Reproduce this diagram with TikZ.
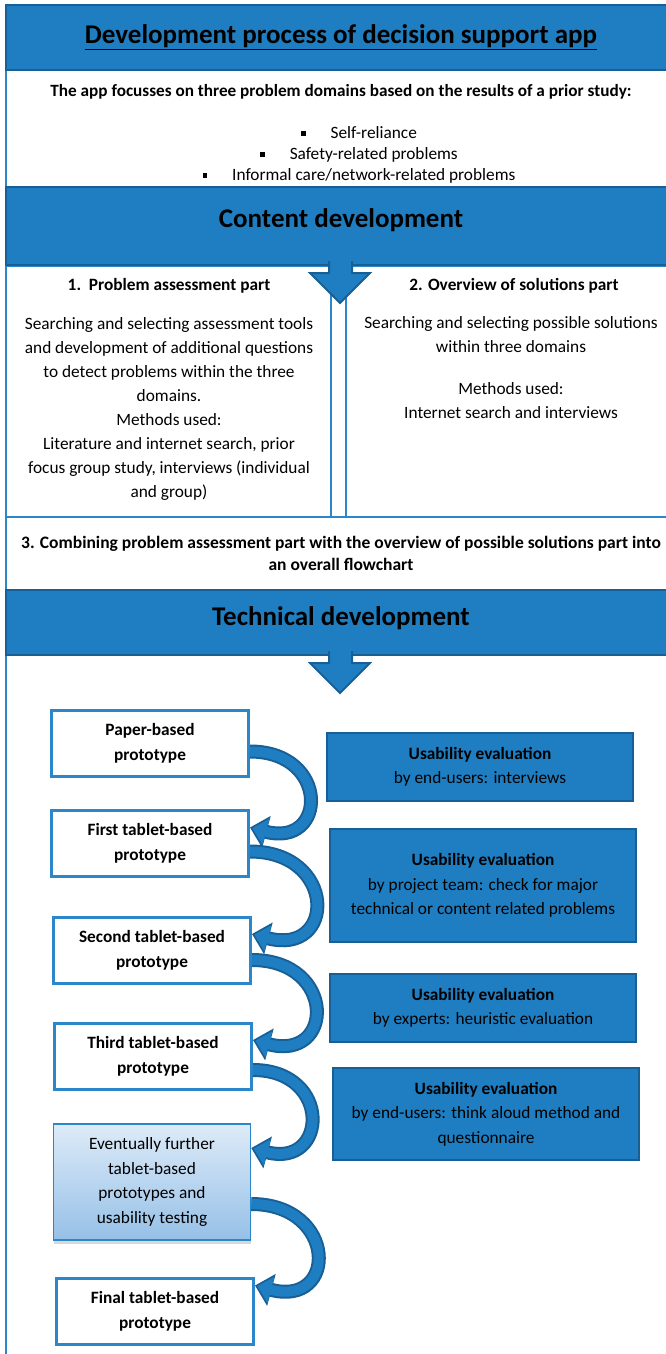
\documentclass[tikz,border=0pt]{standalone}
\usepackage{fontspec}
\setmainfont{Carlito}
\usepackage{xcolor}
\usepackage{tikz}
\usetikzlibrary{shapes, arrows.meta, positioning, shadows}

\definecolor{mainblue}{RGB}{31,126,193}
\definecolor{edgeblue}{RGB}{24,95,150}
\definecolor{lineblue}{RGB}{44,134,202}
\definecolor{paleblue}{RGB}{221,235,248}
\definecolor{skyblue}{RGB}{150,192,231}

\newcommand{\bulletsq}{\rule[3pt]{4.5pt}{4.5pt}\hspace{25pt}}

\begin{document}
\begin{tikzpicture}
  [
    x=1pt, y=-1pt,
    Banner/.style={rectangle, draw=edgeblue, fill=mainblue, line width=2.5pt, inner sep=0pt, minimum width=670},
    Heading/.style={font=\fontsize{27}{31}\selectfont\bfseries},
    Plain/.style={rectangle, draw=lineblue, fill=white, line width=2.5pt, inner sep=0pt},
    Body/.style={align=center, font=\fontsize{17.3}{24}\selectfont},
    Proto/.style={rectangle, draw=lineblue, fill=white, line width=3pt, minimum width=197, minimum height=66, align=center, font=\fontsize{17.3}{25}\selectfont\bfseries},
    Further/.style={Proto, top color=paleblue, bottom color=skyblue, line width=1.5pt, minimum height=116, font=\fontsize{17.3}{24.5}\selectfont, drop shadow={shadow xshift=0pt, shadow yshift=-4pt, opacity=0.3}},
    Eval/.style={rectangle, draw=edgeblue, fill=mainblue, line width=2.5pt, minimum width=306, align=center, font=\fontsize{17.3}{24.5}\selectfont},
    Bend/.style={line width=10pt, draw=mainblue, shorten >=2.5pt, -{Triangle[width=26pt, length=14pt]},
      preaction={draw=edgeblue, line width=14pt, shorten >=0pt, -{Triangle[width=32pt, length=17pt]}}}
  ]
  % Page and frame
  \fill[white] (0,0) rectangle (666,1354);
  \useasboundingbox (0,0) rectangle (666,1354);
  \draw[lineblue, line width=2.5pt] (6,5) -- (6,1370);

  % White sections
  \node[Plain, minimum width=670, minimum height=117] (intro) at (341,128.5) {};
  \node[Plain, minimum width=325, minimum height=251] (partA) at (168.5,391.5) {};
  \node[Plain, minimum width=330, minimum height=251] (partB) at (511,391.5) {};
  \node[Plain, minimum width=670, minimum height=73] (combine) at (341,553.5) {};

  % Banners
  \node[Banner, minimum height=65, font=\fontsize{27}{31}\selectfont\bfseries] (title) at (341,37.5) {\underline{Development process of decision support app}};
  \node[Banner, minimum height=78] (content) at (341,226) {};
  \node[Banner, minimum height=65] (technical) at (341,622.5) {};
  \node[Heading] (contentText) at (341,220) {Content development};
  \node[Heading] (technicalText) at (341,618) {Technical development};

  % Block arrows below the banners
  \foreach \y in {265,655}
    \filldraw[fill=mainblue, draw=edgeblue, line width=2pt, line join=miter] (329,\y-4) -- (329,\y+8) -- (310,\y+8) -- (340,\y+38) -- (370,\y+8) -- (352,\y+8) -- (352,\y-4);

  % Texts of the content part
  \node[Body, font=\fontsize{17.2}{20}\selectfont\bfseries] (aim) at (341,92) {The app focusses on three problem domains based on the results of a prior study:};
  \node[Body, font=\fontsize{17.3}{21}\selectfont] (domains) at (359,155) {\bulletsq Self-reliance\\ \bulletsq Safety-related problems\\ \bulletsq Informal care/network-related problems};
  \node[Body, font=\fontsize{17.3}{24}\selectfont\bfseries] (assessHead) at (169,286) {1.\ \ Problem assessment part};
  \node[Body] (assessBody) at (169,408.5) {Searching and selecting assessment tools\\ and development of additional questions\\ to detect problems within the three\\ domains.\\ Methods used:\\ Literature and internet search, prior\\ focus group study, interviews (individual\\ and group)};
  \node[Body, font=\fontsize{17.3}{24}\selectfont\bfseries] (overviewHead) at (514,286) {2. Overview of solutions part};
  \node[Body] (overviewBody) at (511,368) {Searching and selecting possible solutions\\ within three domains\\[18pt] Methods used:\\ Internet search and interviews};
  \node[Body, font=\fontsize{17.5}{22}\selectfont\bfseries] (combineText) at (341,553) {3. Combining problem assessment part with the overview of possible solutions part into\\ an overall flowchart};

  % Prototypes
  \node[Proto] (paper) at (150,743.5) {Paper-based\\ prototype};
  \node[Proto] (first) at (150,843.5) {First tablet-based\\ prototype};
  \node[Proto] (second) at (152,950) {Second tablet-based\\ prototype};
  \node[Proto] (third) at (153,1056) {Third tablet-based\\ prototype};
  \node[Further] (further) at (152,1182) {Eventually further\\ tablet-based\\ prototypes and\\ usability testing};
  \node[Proto] (final) at (155,1311.5) {Final tablet-based\\ prototype};

  % Evaluations
  \node[Eval, minimum height=68] (evalA) at (480,767) {\textbf{Usability evaluation}\\ by end-users: interviews};
  \node[Eval, minimum height=113] (evalB) at (483,885.5) {\textbf{Usability evaluation}\\ by project team: check for major\\ technical or content related problems};
  \node[Eval, minimum height=68] (evalC) at (483,1008) {\textbf{Usability evaluation}\\ by experts: heuristic evaluation};
  \node[Eval, minimum height=92] (evalD) at (486,1114) {\textbf{Usability evaluation}\\ by end-users: think aloud method and\\ questionnaire};

  % Curved arrows
  \draw[Bend] ([yshift=-8]paper.east) to[out=0, in=-15, looseness=2.7] ([yshift=16]first.east);
  \draw[Bend] ([yshift=-8]first.east) to[out=0, in=-15, looseness=2.7] ([yshift=16]second.east);
  \draw[Bend] ([yshift=-10]second.east) to[out=0, in=-15, looseness=2.7] ([yshift=16]third.east);
  \draw[Bend] ([yshift=-14]third.east) to[out=0, in=-15, looseness=2.6] ([yshift=34]further.east);
  \draw[Bend] ([yshift=-22]further.east) to[out=0, in=-15, looseness=2.7] ([yshift=26]final.east);

\end{tikzpicture}
\end{document}
